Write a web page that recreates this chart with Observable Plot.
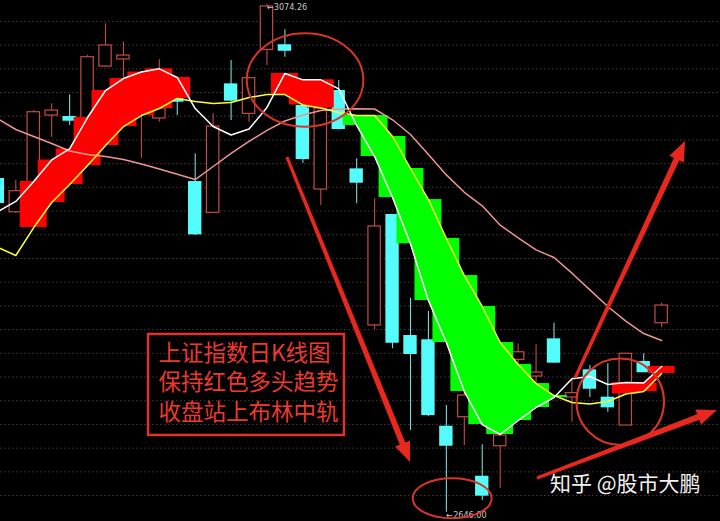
<!DOCTYPE html>
<html><head><meta charset="utf-8">
<script src="https://cdn.jsdelivr.net/npm/d3@7"></script>
<script src="https://cdn.jsdelivr.net/npm/@observablehq/plot@0.6"></script>
<style>
html,body{margin:0;padding:0;background:#000;}
#chart{width:720px;height:521px;overflow:hidden;}
svg{display:block;}
</style></head><body><div id="chart"></div>
<script>
// Daily K-line (上证指数), one entry per trading day, left to right
const openP  = [2927.5,2899.0,2908.9,2980.6,2979.8,2978.1,3021.9,3027.9,2993.3,2978.1,2994.7,2924.9,2898.5,3007.3,2982.0,3036.0,3040.3,2989.1,2918.2,3001.7,2935.6,2803.5,2897.1,2795.0,2791.4,2718.5,2726.1,2676.3,2701.6,2774.5,2760.4,2792.2,2742.7,2766.1,2743.0,2719.1,2773.1,2805.4];
const highP  = [2930.0,2925.8,2984.8,2990.5,2998.1,3031.2,3058.0,3042.5,3014.4,3027.6,3001.7,2948.3,2982.0,3027.0,3012.7,3074.26,3052.9,2997.5,2993.3,3010.1,2944.1,2910.3,2897.1,2826.5,2815.3,2736.0,2748.6,2702.8,2714.9,2787.9,2787.2,2805.4,2757.1,2769.7,2771.2,2779.6,2779.6,2822.3];
const lowP   = [2903.8,2897.9,2906.4,2962.3,2972.2,2976.4,3021.1,3012.7,2944.3,2974.9,2980.6,2879.4,2898.5,2976.4,2974.9,3022.8,3029.8,2940.4,2904.7,2968.4,2906.1,2799.8,2783.8,2714.9,2726.7,2646.0,2702.2,2655.8,2666.2,2768.9,2752.8,2771.4,2721.9,2742.7,2730.3,2719.1,2763.6,2801.5];
const closeP = [2906.4,2916.8,2983.4,2984.8,2975.8,3029.8,3039.7,3031.2,3005.9,2986.5,2991.8,2879.9,2971.3,2992.7,3012.1,3072.6,3034.8,2943.5,2986.5,2968.8,2923.5,2887.0,2788.5,2779.0,2727.5,2701.6,2744.4,2659.5,2710.7,2780.9,2763.8,2771.7,2746.4,2749.7,2734.0,2779.6,2763.6,2820.3];
// Moving-average lines
const maWhite  = [2899.6,2908.1,2924.9,2943.1,2952.4,2978.9,3001.7,3011.8,3017.3,3020.0,3012.7,2986.5,2971.3,2964.2,2969.2,2987.4,3016.1,3010.7,3010.7,3003.1,2972.2,2946.0,2911.4,2872.4,2824.5,2789.1,2747.8,2719.9,2711.5,2723.3,2734.3,2742.7,2758.5,2760.4,2753.7,2755.4,2754.9,2768.9];
const maYellow = [2869.3,2862.5,2886.1,2907.2,2922.4,2938.4,2955.3,2971.3,2980.6,2986.5,2995.0,2992.4,2990.7,2991.6,2995.8,2998.3,2998.3,2989.5,2986.9,2983.1,2980.6,2980.6,2962.9,2935.9,2909.7,2876.9,2845.6,2819.5,2789.1,2770.6,2754.5,2744.4,2738.5,2737.2,2739.4,2745.7,2747.8,2763.0];
const maPink   = [2977.7,2968.8,2962.9,2957.0,2950.7,2947.7,2946.0,2943.5,2939.7,2935.5,2931.1,2926.6,2937.6,2948.6,2958.7,2968.0,2976.0,2981.0,2984.8,2986.1,2986.3,2986.1,2977.0,2964.6,2947.7,2930.5,2915.8,2904.4,2888.1,2877.4,2867.3,2860.8,2847.6,2833.5,2819.5,2807.1,2796.7,2790.8];
// Trend band state per day
const bandState = ["","","red","red","red","red","red","red","red","red","red","","","","","","red","red","red","","green","green","green","green","green","green","green","green","green","green","green","green","","","","red","red","red"];
// Horizontal grid levels
const gridPrices = [3060,3040,3020,3000,2980,2960,2940,2920,2900,2880,2860,2840,2820,2800,2780,2760,2740,2720,2700,2680,2660];
// Annotation texts
const boxLines = ["上证指数日K线图","保持红色多头趋势","收盘站上布林中轨"];
const boxLineDay = 8.95;
const boxLinePrice = [2779.4,2754.9,2729.7];
const boxDays = [8.40,19.32];
const boxPrices = [2710.7,2795.9];
const watermark = "知乎 @股市大鹏";
// Annotation shapes (day index, price)
const arrows = [
  {x1:16.14,y1:2945.2,x2:23.00,y2:2687.9},
  {x1:32.20,y1:2758.8,x2:38.33,y2:2958.7},
  {x1:30.08,y1:2674.4,x2:40.11,y2:2731.8}
];
const ellipses = [
  {cx:17.15,cy:3010.1,rx:3.25,ry:39.4},
  {cx:25.35,cy:2657.3,rx:2.20,ry:16.9},
  {cx:34.72,cy:2738.8,rx:2.44,ry:36.5}
];

const data = openP.map((o,i)=>({i, open:o, high:highP[i], low:lowP[i], close:closeP[i],
  white:maWhite[i], yellow:maYellow[i], pink:maPink[i], band:bandState[i]}));
let run=-1, prev="";
data.forEach(d=>{ if(d.band && d.band!==prev) run++; d.run = d.band ? run : null; prev=d.band; });
const up = d => d.close >= d.open;
const RED="#c24c46", CYAN="#54fcfc", CYANWICK="#7cd8d8";
const bandColor = d => d.band==="red" ? "#ff0000" : "#00ff00";
const iHigh = d3.maxIndex(highP), iLow = d3.minIndex(lowP);
const fmt = d3.format(".2f");

const chart = Plot.plot({
  width:720, height:521, margin:0,
  style:{background:"#000", overflow:"hidden"},
  x:{domain:[0.147,40.28], axis:null},
  y:{domain:[2638.12,3077.63], axis:null},
  color:{type:"identity"},
  marks:[
    Plot.ruleY(gridPrices,{stroke:"#4e3636", strokeDasharray:"1.5,2.5", strokeWidth:1}),
    Plot.ruleX(data,{x:"i", y1:"low", y2:"high", stroke:d=>up(d)?RED:CYANWICK, strokeWidth:1.1}),
    Plot.rect(data.filter(d=>!up(d)),{x1:d=>d.i-0.373, x2:d=>d.i+0.373, y1:"open", y2:"close", fill:CYAN}),
    Plot.rect(data.filter(up),{x1:d=>d.i-0.345, x2:d=>d.i+0.345, y1:"open", y2:"close", fill:"#000", stroke:RED, strokeWidth:1.2}),
    Plot.area(data.filter(d=>d.band),{x1:"i", y1:"yellow", y2:"white", z:"run", fill:bandColor, curve:"linear"}),
    Plot.rect(data.filter(d=>d.band),{x1:d=>d.i-0.75, x2:d=>d.i+0.75, y1:"yellow", y2:"white", fill:bandColor}),
    Plot.line(data,{x:"i", y:"pink", stroke:"#ec9690", strokeWidth:1.5}),
    Plot.line(data,{x:"i", y:"yellow", stroke:"#ffff30", strokeWidth:1.5}),
    Plot.line(data,{x:"i", y:"white", stroke:"#ffffff", strokeWidth:1.5}),
    Plot.text([iHigh],{x:i=>i, y:i=>highP[i], text:i=>"←"+fmt(highP[i]), textAnchor:"start", dx:0, dy:3, fill:"#c8c8c8", fontSize:9, fontFamily:"DejaVu Sans Condensed, Liberation Sans, sans-serif"}),
    Plot.text([iLow],{x:i=>i, y:i=>lowP[i], text:i=>"←"+fmt(lowP[i]), textAnchor:"start", dx:0, dy:3, fill:"#c8c8c8", fontSize:9, fontFamily:"DejaVu Sans Condensed, Liberation Sans, sans-serif"}),
    Plot.rect([0],{x1:()=>boxDays[0], x2:()=>boxDays[1], y1:()=>boxPrices[0], y2:()=>boxPrices[1], fill:"none", stroke:"#e2332a", strokeWidth:2.5}),
    Plot.text(boxLines,{x:()=>boxLineDay, y:(d,i)=>boxLinePrice[i], text:d=>d, textAnchor:"start", fill:"#ec3a2e", fontSize:22.5, fontFamily:"'Noto Sans CJK SC', sans-serif"}),
    Plot.text([watermark],{frameAnchor:"bottom-right", text:d=>d, dx:-20, dy:-31, fill:"#f2f2f2", fontSize:21, fontFamily:"'Noto Sans CJK SC', sans-serif"})
  ]
});
document.getElementById("chart").appendChild(chart);

const sx = chart.scale("x"), sy = chart.scale("y");
const svg = d3.select(chart);
const g = svg.append("g");
ellipses.forEach(e=>{
  const cx = sx.apply(e.cx), cy = sy.apply(e.cy);
  g.append("ellipse").attr("cx",cx).attr("cy",cy)
   .attr("rx", Math.abs(sx.apply(e.cx+e.rx)-cx)).attr("ry", Math.abs(sy.apply(e.cy+e.ry)-cy))
   .attr("fill","none").attr("stroke","#d8352a").attr("stroke-width",2);
});
arrows.forEach(a=>{
  const x0=sx.apply(a.x1), y0=sy.apply(a.y1), x1=sx.apply(a.x2), y1=sy.apply(a.y2);
  const len=Math.hypot(x1-x0,y1-y0), ux=(x1-x0)/len, uy=(y1-y0)/len, nx=-uy, ny=ux;
  const L=20, H=8, w0=1.6, w1=3.0;
  const bx=x1-ux*L, by=y1-uy*L;
  const shaft=[[x0+nx*w0,y0+ny*w0],[bx+ux+nx*w1,by+uy+ny*w1],[bx+ux-nx*w1,by+uy-ny*w1],[x0-nx*w0,y0-ny*w0]];
  const head=[[x1,y1],[bx+nx*H,by+ny*H],[bx-nx*H,by-ny*H]];
  g.append("polygon").attr("points",shaft.map(p=>p.join(",")).join(" ")).attr("fill","#e8281e");
  g.append("polygon").attr("points",head.map(p=>p.join(",")).join(" ")).attr("fill","#e8281e");
});
</script></body></html>
